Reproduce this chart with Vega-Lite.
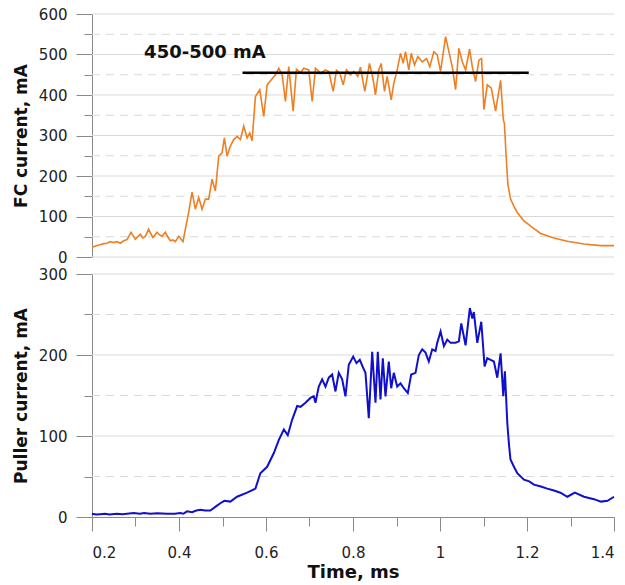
{
  "$schema": "https://vega.github.io/schema/vega-lite/v6.json",
  "background": "white",
  "padding": {"left": 12, "top": 7, "right": 5, "bottom": 2},
  "spacing": 2,
  "config": {
    "font": "DejaVu Sans",
    "view": {"stroke": null},
    "axis": {
      "labelFont": "DejaVu Sans", "labelFontSize": 15, "labelColor": "#222",
      "titleFont": "DejaVu Sans", "titleFontSize": 17, "titleFontWeight": "bold", "titleColor": "#111",
      "domainColor": "#8a8a8a", "tickColor": "#8a8a8a", "grid": false
    }
  },
  "datasets": {
    "fc": [
      {"t":0.200,"v":24},{"t":0.210,"v":28},{"t":0.219,"v":30},{"t":0.227,"v":33},{"t":0.2345,"v":34},{"t":0.242,"v":38},{"t":0.2497,"v":36},{"t":0.257,"v":38},{"t":0.265,"v":34},{"t":0.273,"v":40},{"t":0.2805,"v":43},{"t":0.2897,"v":61},{"t":0.2996,"v":44},{"t":0.305,"v":50},{"t":0.311,"v":56},{"t":0.317,"v":47},{"t":0.3226,"v":51},{"t":0.3302,"v":69},{"t":0.335,"v":58},{"t":0.3403,"v":48},{"t":0.3495,"v":61},{"t":0.355,"v":55},{"t":0.361,"v":51},{"t":0.3686,"v":61},{"t":0.374,"v":50},{"t":0.380,"v":40},{"t":0.386,"v":42},{"t":0.3916,"v":38},{"t":0.3993,"v":51},{"t":0.4093,"v":38},{"t":0.4146,"v":69},{"t":0.4222,"v":110},{"t":0.430,"v":160},{"t":0.4376,"v":118},{"t":0.4453,"v":147},{"t":0.453,"v":118},{"t":0.4606,"v":143},{"t":0.4683,"v":143},{"t":0.476,"v":192},{"t":0.4836,"v":163},{"t":0.4913,"v":249},{"t":0.499,"v":257},{"t":0.5043,"v":294},{"t":0.5105,"v":249},{"t":0.5181,"v":274},{"t":0.5258,"v":290},{"t":0.5336,"v":298},{"t":0.5412,"v":290},{"t":0.5488,"v":323},{"t":0.5566,"v":294},{"t":0.5626,"v":306},{"t":0.568,"v":287},{"t":0.5757,"v":396},{"t":0.5856,"v":413},{"t":0.5948,"v":347},{"t":0.6026,"v":425},{"t":0.6118,"v":437},{"t":0.6217,"v":450},{"t":0.6293,"v":466},{"t":0.6371,"v":450},{"t":0.6447,"v":384},{"t":0.6523,"v":470},{"t":0.6624,"v":360},{"t":0.67,"v":464},{"t":0.6792,"v":455},{"t":0.6868,"v":466},{"t":0.6983,"v":462},{"t":0.7061,"v":384},{"t":0.7137,"v":466},{"t":0.7252,"v":454},{"t":0.7367,"v":462},{"t":0.7444,"v":458},{"t":0.7544,"v":409},{"t":0.762,"v":461},{"t":0.7697,"v":454},{"t":0.7774,"v":425},{"t":0.785,"v":462},{"t":0.7942,"v":450},{"t":0.8018,"v":458},{"t":0.811,"v":446},{"t":0.8172,"v":469},{"t":0.8271,"v":409},{"t":0.8379,"v":478},{"t":0.8464,"v":437},{"t":0.8517,"v":400},{"t":0.8593,"v":462},{"t":0.8648,"v":478},{"t":0.8724,"v":409},{"t":0.8786,"v":446},{"t":0.8878,"v":388},{"t":0.8938,"v":429},{"t":0.9016,"v":462},{"t":0.9092,"v":503},{"t":0.9154,"v":478},{"t":0.9207,"v":507},{"t":0.9283,"v":462},{"t":0.9338,"v":503},{"t":0.9414,"v":474},{"t":0.949,"v":495},{"t":0.9591,"v":482},{"t":0.969,"v":490},{"t":0.9766,"v":470},{"t":0.9858,"v":507},{"t":0.9936,"v":499},{"t":1.0013,"v":458},{"t":1.0128,"v":544},{"t":1.0204,"v":507},{"t":1.0282,"v":470},{"t":1.0358,"v":413},{"t":1.0434,"v":515},{"t":1.0512,"v":482},{"t":1.0588,"v":462},{"t":1.068,"v":513},{"t":1.0742,"v":470},{"t":1.0818,"v":433},{"t":1.0894,"v":486},{"t":1.0956,"v":490},{"t":1.1009,"v":364},{"t":1.1087,"v":425},{"t":1.1179,"v":417},{"t":1.1278,"v":360},{"t":1.1393,"v":436},{"t":1.1455,"v":339},{"t":1.148,"v":330},{"t":1.152,"v":250},{"t":1.156,"v":180},{"t":1.1623,"v":143},{"t":1.17,"v":125},{"t":1.1777,"v":110},{"t":1.1929,"v":89},{"t":1.2122,"v":73},{"t":1.2313,"v":58},{"t":1.2619,"v":47},{"t":1.2927,"v":39},{"t":1.3309,"v":32},{"t":1.3693,"v":28},{"t":1.4,"v":28}
    ],
    "puller": [
      {"t":0.200,"v":4},{"t":0.210,"v":3},{"t":0.219,"v":3.4},{"t":0.23,"v":4},{"t":0.24,"v":3},{"t":0.2574,"v":4},{"t":0.27,"v":3.5},{"t":0.2957,"v":5},{"t":0.31,"v":4},{"t":0.32,"v":5},{"t":0.334,"v":4},{"t":0.35,"v":4.5},{"t":0.3724,"v":4},{"t":0.39,"v":4},{"t":0.403,"v":5},{"t":0.41,"v":4},{"t":0.4184,"v":7},{"t":0.43,"v":6},{"t":0.44,"v":8},{"t":0.449,"v":9},{"t":0.46,"v":8},{"t":0.472,"v":8},{"t":0.4874,"v":14},{"t":0.495,"v":17},{"t":0.5043,"v":20},{"t":0.518,"v":19},{"t":0.5335,"v":25},{"t":0.5565,"v":30},{"t":0.5757,"v":35},{"t":0.587,"v":54},{"t":0.6026,"v":62},{"t":0.618,"v":79},{"t":0.6293,"v":95},{"t":0.641,"v":108},{"t":0.65,"v":101},{"t":0.660,"v":120},{"t":0.6717,"v":137},{"t":0.6792,"v":136},{"t":0.6908,"v":141},{"t":0.7022,"v":147},{"t":0.7098,"v":149},{"t":0.7137,"v":141},{"t":0.7213,"v":161},{"t":0.7291,"v":170},{"t":0.7367,"v":161},{"t":0.7443,"v":172},{"t":0.7521,"v":176},{"t":0.7597,"v":155},{"t":0.7673,"v":178},{"t":0.7751,"v":170},{"t":0.7827,"v":149},{"t":0.7903,"v":188},{"t":0.8004,"v":198},{"t":0.808,"v":190},{"t":0.8156,"v":194},{"t":0.8234,"v":184},{"t":0.8287,"v":178},{"t":0.8363,"v":122},{"t":0.8441,"v":204},{"t":0.8517,"v":141},{"t":0.857,"v":204},{"t":0.8632,"v":145},{"t":0.8685,"v":196},{"t":0.8747,"v":149},{"t":0.8823,"v":192},{"t":0.8878,"v":159},{"t":0.8938,"v":178},{"t":0.9016,"v":161},{"t":0.9092,"v":165},{"t":0.9168,"v":159},{"t":0.926,"v":153},{"t":0.9338,"v":176},{"t":0.9437,"v":178},{"t":0.9513,"v":200},{"t":0.9591,"v":207},{"t":0.9667,"v":203},{"t":0.9743,"v":192},{"t":0.9821,"v":207},{"t":0.9897,"v":205},{"t":0.9936,"v":215},{"t":1.0013,"v":229},{"t":1.0089,"v":211},{"t":1.0167,"v":219},{"t":1.0243,"v":215},{"t":1.0358,"v":215},{"t":1.0434,"v":217},{"t":1.0489,"v":239},{"t":1.0588,"v":212},{"t":1.0686,"v":258},{"t":1.0742,"v":245},{"t":1.0778,"v":253},{"t":1.0857,"v":215},{"t":1.0949,"v":241},{"t":1.1025,"v":186},{"t":1.1087,"v":196},{"t":1.1163,"v":194},{"t":1.1239,"v":192},{"t":1.1317,"v":172},{"t":1.1393,"v":202},{"t":1.1455,"v":149},{"t":1.1492,"v":180},{"t":1.1547,"v":116},{"t":1.1585,"v":90},{"t":1.162,"v":71},{"t":1.17,"v":62},{"t":1.1777,"v":54},{"t":1.193,"v":46},{"t":1.205,"v":44},{"t":1.2159,"v":40},{"t":1.23,"v":38},{"t":1.2466,"v":35},{"t":1.26,"v":33},{"t":1.277,"v":30},{"t":1.2927,"v":25},{"t":1.31,"v":30},{"t":1.331,"v":25},{"t":1.354,"v":22},{"t":1.37,"v":19},{"t":1.385,"v":20},{"t":1.4,"v":25}
    ],
    "gridTop": [
      {"t":0.2,"t2":1.4,"v":0,"kind":"major"},{"t":0.2,"t2":1.4,"v":50,"kind":"minor"},{"t":0.2,"t2":1.4,"v":100,"kind":"major"},{"t":0.2,"t2":1.4,"v":150,"kind":"minor"},{"t":0.2,"t2":1.4,"v":200,"kind":"major"},{"t":0.2,"t2":1.4,"v":250,"kind":"minor"},{"t":0.2,"t2":1.4,"v":300,"kind":"major"},{"t":0.2,"t2":1.4,"v":350,"kind":"minor"},{"t":0.2,"t2":1.4,"v":400,"kind":"major"},{"t":0.2,"t2":1.4,"v":450,"kind":"minor"},{"t":0.2,"t2":1.4,"v":500,"kind":"major"},{"t":0.2,"t2":1.4,"v":550,"kind":"minor"},{"t":0.2,"t2":1.4,"v":600,"kind":"major"}
    ],
    "gridBottom": [
      {"t":0.2,"t2":1.4,"v":50,"kind":"minor"},{"t":0.2,"t2":1.4,"v":100,"kind":"major"},{"t":0.2,"t2":1.4,"v":150,"kind":"minor"},{"t":0.2,"t2":1.4,"v":200,"kind":"major"},{"t":0.2,"t2":1.4,"v":250,"kind":"minor"},{"t":0.2,"t2":1.4,"v":300,"kind":"major"}
    ],
    "band": [{"t":0.546,"t2":1.204,"v":455}],
    "label": [{"t":0.4595,"v":503,"text":"450-500 mA"}]
  },
  "vconcat": [
    {
      "width": 522,
      "height": 243,
      "encoding": {
        "x": {"field": "t", "type": "quantitative", "scale": {"domain": [0.2, 1.4], "nice": false, "zero": false}, "axis": null},
        "y": {"field": "v", "type": "quantitative", "scale": {"domain": [0, 600], "nice": false},
          "axis": {
            "title": "FC current, mA",
            "values": [0,50,100,150,200,250,300,350,400,450,500,550,600],
            "labelExpr": "datum.value % 100 === 0 ? datum.label : ''",
            "tickSize": 16,
            "tickDash": {"condition": {"test": "datum.value % 100 === 0", "value": [2000, 1]}, "value": [8, 100]},
            "labelPadding": 9,
            "titlePadding": 8,
            "grid": false
          }
        }
      },
      "layer": [
        {
          "data": {"name": "gridTop"},
          "mark": {"type": "rule", "color": "#d9d9d9", "strokeWidth": 1},
          "encoding": {
            "x2": {"field": "t2"},
            "strokeDash": {"field": "kind", "type": "nominal", "scale": {"domain": ["major", "minor"], "range": [[1, 0], [8, 6]]}, "legend": null}
          }
        },
        {
          "data": {"name": "fc"},
          "mark": {"type": "line", "color": "#ee7f22", "strokeWidth": 1.6}
        },
        {
          "data": {"name": "band"},
          "mark": {"type": "rule", "color": "#000000", "strokeWidth": 2.5},
          "encoding": {"x2": {"field": "t2"}}
        },
        {
          "data": {"name": "label"},
          "mark": {"type": "text", "font": "DejaVu Sans", "fontSize": 18, "fontWeight": "bold", "color": "#111", "align": "center", "baseline": "middle"},
          "encoding": {"text": {"field": "text"}}
        }
      ]
    },
    {
      "width": 522,
      "height": 243,
      "encoding": {
        "x": {"field": "t", "type": "quantitative", "scale": {"domain": [0.2, 1.4], "nice": false, "zero": false},
          "axis": {
            "title": "Time, ms",
            "titleFontSize": 18,
            "values": [0.2,0.3,0.4,0.5,0.6,0.7,0.8,0.9,1.0,1.1,1.2,1.3,1.4],
            "labelExpr": "round(datum.value * 10) % 2 === 0 ? format(datum.value, '~g') : ''",
            "tickSize": 14,
            "tickDash": {"condition": {"test": "round(datum.value * 10) % 2 === 0", "value": [2000, 1]}, "value": [9, 100]},
            "labelPadding": 14,
            "titlePadding": 3,
            "grid": false
          }
        },
        "y": {"field": "v", "type": "quantitative", "scale": {"domain": [0, 300], "nice": false},
          "axis": {
            "title": "Puller current, mA",
            "values": [0,50,100,150,200,250,300],
            "labelExpr": "datum.value % 100 === 0 ? datum.label : ''",
            "tickSize": 16,
            "tickDash": {"condition": {"test": "datum.value % 100 === 0", "value": [2000, 1]}, "value": [8, 100]},
            "labelPadding": 9,
            "titlePadding": 8,
            "grid": false
          }
        }
      },
      "layer": [
        {
          "data": {"name": "gridBottom"},
          "mark": {"type": "rule", "color": "#d9d9d9", "strokeWidth": 1},
          "encoding": {
            "x2": {"field": "t2"},
            "strokeDash": {"field": "kind", "type": "nominal", "scale": {"domain": ["major", "minor"], "range": [[1, 0], [8, 6]]}, "legend": null}
          }
        },
        {
          "data": {"name": "puller"},
          "mark": {"type": "line", "color": "#1010cc", "strokeWidth": 2}
        }
      ]
    }
  ]
}
